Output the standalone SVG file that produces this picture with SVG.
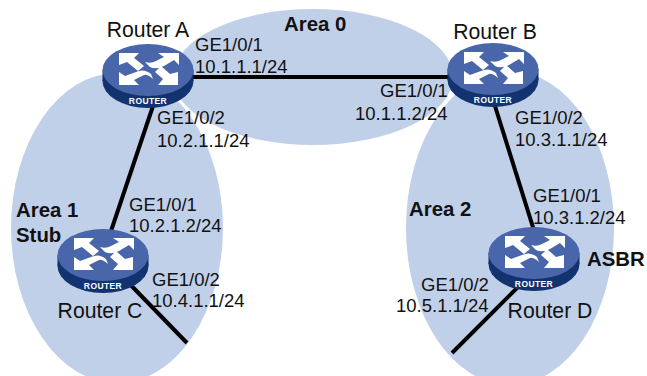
<svg xmlns="http://www.w3.org/2000/svg" width="647" height="376" viewBox="0 0 647 376">
<style>
text{font-family:"Liberation Sans",Arial,sans-serif;font-size:18.500px;fill:#111}
.b{font-weight:bold;font-size:20.400px}
.n{font-size:21.200px}
.area{fill:#c1d0e9}
.link{stroke:#000;stroke-width:4;fill:none}
.ar{fill:#fff}
.rl{font-size:8.500px;font-weight:bold;fill:#fff;letter-spacing:.4px}
</style>
<defs>
<g id="router">
<ellipse cx="0" cy="37" rx="45.500" ry="27" fill="#12336f"/>
<rect x="-45.500" y="26" width="91" height="11" fill="#12336f"/>
<ellipse cx="0" cy="26" rx="45.500" ry="26" fill="#4a66aa"/>
<path class="ar" d="M-29 9H-9L-14 14L-4 22L-10 27L-21 18L-29 21ZM10 9H31V21L26 16L16 22Q8 26 2 23L-3 18Q3 20 8 17L16 13ZM-29 41V28L-23 32L-12 28Q-4 24 3 30L5 35Q-1 30 -4 31L-14 36L-9 41ZM30 41H10L15 35L7 28L13 22L22 30L30 28Z"/>
<text class="rl" x="0" y="60" text-anchor="middle">ROUTER</text>
</g>
</defs>
<g id="areas">
<ellipse id="area0" class="area" cx="313" cy="77" rx="140" ry="68"/>
<ellipse id="area1" class="area" cx="117" cy="228" rx="106" ry="155"/>
<ellipse id="area2" class="area" cx="510" cy="228" rx="104" ry="157"/>
</g>
<g id="connectors">
<line class="link" x1="148" y1="77" x2="492" y2="77"/>
<line class="link" x1="154" y1="103" x2="108" y2="240"/>
<line class="link" x1="490" y1="90" x2="537" y2="240"/>
<line class="link" x1="120" y1="274" x2="187" y2="343"/>
<line class="link" x1="525" y1="280" x2="452" y2="353"/>
</g>
<g id="router-a"><use href="#router" x="148" y="44"/><text class="n" x="148" y="37" text-anchor="middle">Router A</text></g>
<g id="router-b"><use href="#router" x="493" y="43"/><text class="n" x="495" y="39" text-anchor="middle">Router B</text></g>
<g id="router-c"><use href="#router" x="103" y="229"/><text class="n" x="100" y="318" text-anchor="middle">Router C</text></g>
<g id="router-d"><use href="#router" x="534" y="227"/><text class="n" x="550" y="318" text-anchor="middle">Router D</text></g>
<g id="labels">
<text class="b" x="284" y="31">Area 0</text>
<text class="b" x="16" y="217">Area 1</text>
<text class="b" x="16" y="242">Stub</text>
<text class="b" x="409" y="216">Area 2</text>
<text class="b" x="587" y="266">ASBR</text>
<text x="195" y="51">GE1/0/1</text>
<text x="195" y="73">10.1.1.1/24</text>
<text x="380" y="97">GE1/0/1</text>
<text x="355" y="120">10.1.1.2/24</text>
<text x="157" y="124">GE1/0/2</text>
<text x="157" y="147">10.2.1.1/24</text>
<text x="515" y="124">GE1/0/2</text>
<text x="515" y="146">10.3.1.1/24</text>
<text x="129" y="211">GE1/0/1</text>
<text x="129" y="232">10.2.1.2/24</text>
<text x="533" y="202">GE1/0/1</text>
<text x="533" y="224">10.3.1.2/24</text>
<text x="152" y="286">GE1/0/2</text>
<text x="152" y="307">10.4.1.1/24</text>
<text x="421" y="291">GE1/0/2</text>
<text x="396" y="312">10.5.1.1/24</text>
</g>
</svg>
